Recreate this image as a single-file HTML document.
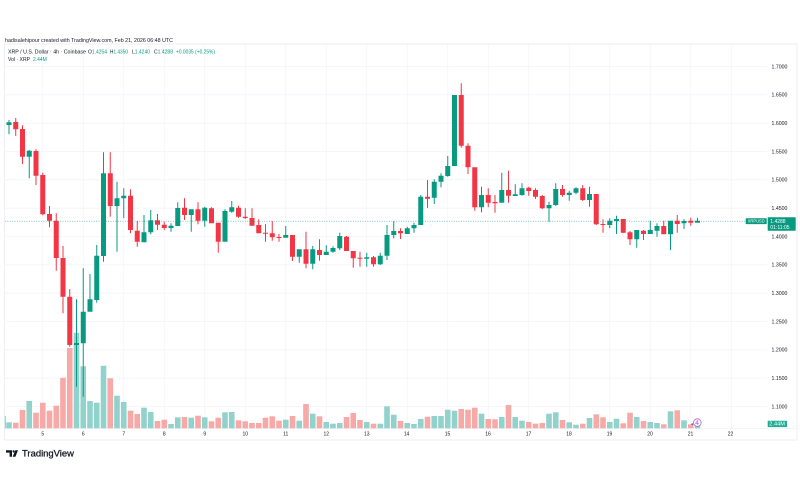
<!DOCTYPE html>
<html><head><meta charset="utf-8"><style>
html,body{margin:0;padding:0;background:#fff;width:800px;height:500px;overflow:hidden}
svg{display:block}
.g{fill:#089981}.r{fill:#f23645}.vg{fill:#92d2cc}.vr{fill:#f7a9a7}
.t{font-family:"Liberation Sans",sans-serif;fill:#131722}
</style></head><body>
<svg width="800" height="500" viewBox="0 0 800 500" xmlns="http://www.w3.org/2000/svg">
<rect width="800" height="500" fill="#fff"/>
<!-- header -->
<text class="t" x="5" y="41.8" font-size="5.3" textLength="168" lengthAdjust="spacingAndGlyphs">hadisalehipour created with TradingView.com, Feb 21, 2026 06:48 UTC</text>
<!-- frame -->
<rect x="4.7" y="44" width="792.3" height="396" fill="none" stroke="#e0e3eb" stroke-width="0.6"/>
<!-- grid -->
<g stroke="#f0f3fa" stroke-width="0.8">
<line x1="42.75" y1="44" x2="42.75" y2="428.3"/><line x1="83.25" y1="44" x2="83.25" y2="428.3"/><line x1="123.75" y1="44" x2="123.75" y2="428.3"/><line x1="164.25" y1="44" x2="164.25" y2="428.3"/><line x1="204.75" y1="44" x2="204.75" y2="428.3"/><line x1="245.25" y1="44" x2="245.25" y2="428.3"/><line x1="285.75" y1="44" x2="285.75" y2="428.3"/><line x1="326.25" y1="44" x2="326.25" y2="428.3"/><line x1="366.75" y1="44" x2="366.75" y2="428.3"/><line x1="407.25" y1="44" x2="407.25" y2="428.3"/><line x1="447.75" y1="44" x2="447.75" y2="428.3"/><line x1="488.25" y1="44" x2="488.25" y2="428.3"/><line x1="528.75" y1="44" x2="528.75" y2="428.3"/><line x1="569.25" y1="44" x2="569.25" y2="428.3"/><line x1="609.75" y1="44" x2="609.75" y2="428.3"/><line x1="650.25" y1="44" x2="650.25" y2="428.3"/><line x1="690.75" y1="44" x2="690.75" y2="428.3"/><line x1="731.25" y1="44" x2="731.25" y2="428.3"/>
<line x1="4.7" y1="66.5" x2="767" y2="66.5"/><line x1="4.7" y1="94.8" x2="767" y2="94.8"/><line x1="4.7" y1="123.2" x2="767" y2="123.2"/><line x1="4.7" y1="151.5" x2="767" y2="151.5"/><line x1="4.7" y1="179.8" x2="767" y2="179.8"/><line x1="4.7" y1="208.2" x2="767" y2="208.2"/><line x1="4.7" y1="236.5" x2="767" y2="236.5"/><line x1="4.7" y1="264.8" x2="767" y2="264.8"/><line x1="4.7" y1="293.2" x2="767" y2="293.2"/><line x1="4.7" y1="321.5" x2="767" y2="321.5"/><line x1="4.7" y1="349.8" x2="767" y2="349.8"/><line x1="4.7" y1="378.2" x2="767" y2="378.2"/><line x1="4.7" y1="406.5" x2="767" y2="406.5"/>
</g>
<line x1="4.7" y1="428.6" x2="797" y2="428.6" stroke="#eceef2" stroke-width="0.6"/>
<!-- legend -->
<g class="t" font-size="5.3">
<text x="8" y="53.6" textLength="78" lengthAdjust="spacingAndGlyphs">XRP / U.S. Dollar · 4h · Coinbase</text>
<text x="88" y="53.6" textLength="19" lengthAdjust="spacingAndGlyphs">O<tspan fill="#089981">1.4254</tspan></text>
<text x="110" y="53.6" textLength="18" lengthAdjust="spacingAndGlyphs">H<tspan fill="#089981">1.4350</tspan></text>
<text x="132" y="53.6" textLength="18" lengthAdjust="spacingAndGlyphs">L<tspan fill="#089981">1.4240</tspan></text>
<text x="154" y="53.6" textLength="19" lengthAdjust="spacingAndGlyphs">C<tspan fill="#089981">1.4288</tspan></text>
<text x="176" y="53.6" textLength="39" lengthAdjust="spacingAndGlyphs" fill="#089981" style="fill:#089981">+0.0035 (+0.25%)</text>
<text x="8" y="60.9" textLength="22" lengthAdjust="spacingAndGlyphs">Vol · XRP</text>
<text x="33" y="60.9" textLength="13.7" lengthAdjust="spacingAndGlyphs" style="fill:#089981">2.44M</text>
</g>
<!-- sliver volume -->
<rect x="4.7" y="416" width="1.2" height="12.3" class="vg"/>
<!-- candles -->
<g transform="translate(9)"><path class="vg" d="M-2.8 422.3V428.3H2.8V422.3Z"/><path class="g" d="M-.5 120V134.3H.5V120ZM-2.5 122.3V125H2.5V122.3Z"/></g>
<g transform="translate(15.75)"><path class="vr" d="M-2.8 422.7V428.3H2.8V422.7Z"/><path class="r" d="M-.5 118V136H.5V118ZM-2.5 122V129.3H2.5V122Z"/></g>
<g transform="translate(22.5)"><path class="vr" d="M-2.8 410V428.3H2.8V410Z"/><path class="r" d="M-.5 125.3V164H.5V125.3ZM-2.5 129V156.7H2.5V129Z"/></g>
<g transform="translate(29.25)"><path class="vg" d="M-2.8 401V428.3H2.8V401Z"/><path class="g" d="M-.5 150V178.3H.5V150ZM-2.5 150.7V156.7H2.5V150.7Z"/></g>
<g transform="translate(36)"><path class="vr" d="M-2.8 412.7V428.3H2.8V412.7Z"/><path class="r" d="M-.5 149.3V185H.5V149.3ZM-2.5 151V175.7H2.5V151Z"/></g>
<g transform="translate(42.75)"><path class="vr" d="M-2.8 402.7V428.3H2.8V402.7Z"/><path class="r" d="M-.5 172.7V215.3H.5V172.7ZM-2.5 175V214.3H2.5V175Z"/></g>
<g transform="translate(49.5)"><path class="vr" d="M-2.8 410.7V428.3H2.8V410.7Z"/><path class="r" d="M-.5 206V227.3H.5V206ZM-2.5 214V220.7H2.5V214Z"/></g>
<g transform="translate(56.25)"><path class="vr" d="M-2.8 405.7V428.3H2.8V405.7Z"/><path class="r" d="M-.5 213.3V270.7H.5V213.3ZM-2.5 220.7V258H2.5V220.7Z"/></g>
<g transform="translate(63)"><path class="vr" d="M-2.8 377.7V428.3H2.8V377.7Z"/><path class="r" d="M-.5 246V313.3H.5V246ZM-2.5 258V296.7H2.5V258Z"/></g>
<g transform="translate(69.75)"><path class="vr" d="M-2.8 348V428.3H2.8V348Z"/><path class="r" d="M-.5 289V346.7H.5V289ZM-2.5 296.7V345H2.5V296.7Z"/></g>
<g transform="translate(76.5)"><path class="vg" d="M-2.8 332.7V428.3H2.8V332.7Z"/><path class="g" d="M-.5 299.3V386.7H.5V299.3ZM-2.5 343V345H2.5V343Z"/></g>
<g transform="translate(83.25)"><path class="vg" d="M-2.8 366.3V428.3H2.8V366.3Z"/><path class="g" d="M-.5 268.3V396.7H.5V268.3ZM-2.5 311.7V343.3H2.5V311.7Z"/></g>
<g transform="translate(90)"><path class="vg" d="M-2.8 401V428.3H2.8V401Z"/><path class="g" d="M-.5 274V311.7H.5V274ZM-2.5 299.3V311.7H2.5V299.3Z"/></g>
<g transform="translate(96.75)"><path class="vg" d="M-2.8 402.7V428.3H2.8V402.7Z"/><path class="g" d="M-.5 245V302.7H.5V245ZM-2.5 255.7V300H2.5V255.7Z"/></g>
<g transform="translate(103.5)"><path class="vg" d="M-2.8 365.7V428.3H2.8V365.7Z"/><path class="g" d="M-.5 152.3V261.7H.5V152.3ZM-2.5 173.3V256H2.5V173.3Z"/></g>
<g transform="translate(110.25)"><path class="vr" d="M-2.8 378.3V428.3H2.8V378.3Z"/><path class="r" d="M-.5 152.3V216.7H.5V152.3ZM-2.5 173.3V206H2.5V173.3Z"/></g>
<g transform="translate(117)"><path class="vg" d="M-2.8 395.7V428.3H2.8V395.7Z"/><path class="g" d="M-.5 181.7V251.7H.5V181.7ZM-2.5 198.3V206H2.5V198.3Z"/></g>
<g transform="translate(123.75)"><path class="vg" d="M-2.8 402V428.3H2.8V402Z"/><path class="g" d="M-.5 188.3V218.3H.5V188.3ZM-2.5 195.7V198.3H2.5V195.7Z"/></g>
<g transform="translate(130.5)"><path class="vr" d="M-2.8 410.7V428.3H2.8V410.7Z"/><path class="r" d="M-.5 189.3V233.3H.5V189.3ZM-2.5 195.7V230H2.5V195.7Z"/></g>
<g transform="translate(137.25)"><path class="vr" d="M-2.8 414V428.3H2.8V414Z"/><path class="r" d="M-.5 221V246.7H.5V221ZM-2.5 230.7V241.7H2.5V230.7Z"/></g>
<g transform="translate(144)"><path class="vg" d="M-2.8 407.7V428.3H2.8V407.7Z"/><path class="g" d="M-.5 215V242.3H.5V215ZM-2.5 232.3V242.3H2.5V232.3Z"/></g>
<g transform="translate(150.75)"><path class="vg" d="M-2.8 412V428.3H2.8V412Z"/><path class="g" d="M-.5 210V234.3H.5V210ZM-2.5 220.3V232.3H2.5V220.3Z"/></g>
<g transform="translate(157.5)"><path class="vr" d="M-2.8 421V428.3H2.8V421Z"/><path class="r" d="M-.5 214V230H.5V214ZM-2.5 220.3V224.7H2.5V220.3Z"/></g>
<g transform="translate(164.25)"><path class="vr" d="M-2.8 419.7V428.3H2.8V419.7Z"/><path class="r" d="M-.5 221.7V230H.5V221.7ZM-2.5 224.7V228H2.5V224.7Z"/></g>
<g transform="translate(171)"><path class="vg" d="M-2.8 424V428.3H2.8V424Z"/><path class="g" d="M-.5 223.3V231.7H.5V223.3ZM-2.5 225.7V228H2.5V225.7Z"/></g>
<g transform="translate(177.75)"><path class="vg" d="M-2.8 417.3V428.3H2.8V417.3Z"/><path class="g" d="M-.5 202.3V226H.5V202.3ZM-2.5 208V226H2.5V208Z"/></g>
<g transform="translate(184.5)"><path class="vr" d="M-2.8 417V428.3H2.8V417Z"/><path class="r" d="M-.5 198.3V220H.5V198.3ZM-2.5 207.7V215H2.5V207.7Z"/></g>
<g transform="translate(191.25)"><path class="vg" d="M-2.8 417.7V428.3H2.8V417.7Z"/><path class="g" d="M-.5 209.3V231.7H.5V209.3ZM-2.5 209.3V215H2.5V209.3Z"/></g>
<g transform="translate(198)"><path class="vr" d="M-2.8 415.7V428.3H2.8V415.7Z"/><path class="r" d="M-.5 202.3V224.3H.5V202.3ZM-2.5 209.3V220.7H2.5V209.3Z"/></g>
<g transform="translate(204.75)"><path class="vg" d="M-2.8 417.3V428.3H2.8V417.3Z"/><path class="g" d="M-.5 206.7V226.7H.5V206.7ZM-2.5 207.7V220.7H2.5V207.7Z"/></g>
<g transform="translate(211.5)"><path class="vr" d="M-2.8 421.3V428.3H2.8V421.3Z"/><path class="r" d="M-.5 207.3V223.3H.5V207.3ZM-2.5 208.3V223.3H2.5V208.3Z"/></g>
<g transform="translate(218.25)"><path class="vr" d="M-2.8 417.7V428.3H2.8V417.7Z"/><path class="r" d="M-.5 222.7V252.7H.5V222.7ZM-2.5 222.7V241.7H2.5V222.7Z"/></g>
<g transform="translate(225)"><path class="vg" d="M-2.8 412.3V428.3H2.8V412.3Z"/><path class="g" d="M-.5 209.3V241.7H.5V209.3ZM-2.5 211V241.7H2.5V211Z"/></g>
<g transform="translate(231.75)"><path class="vg" d="M-2.8 412V428.3H2.8V412Z"/><path class="g" d="M-.5 201V212.7H.5V201ZM-2.5 207.3V211.7H2.5V207.3Z"/></g>
<g transform="translate(238.5)"><path class="vr" d="M-2.8 420.3V428.3H2.8V420.3Z"/><path class="r" d="M-.5 205.7V217.7H.5V205.7ZM-2.5 207.7V216.7H2.5V207.7Z"/></g>
<g transform="translate(245.25)"><path class="vr" d="M-2.8 421.3V428.3H2.8V421.3Z"/><path class="r" d="M-.5 208.3V219H.5V208.3ZM-2.5 216.7V218H2.5V216.7Z"/></g>
<g transform="translate(252)"><path class="vr" d="M-2.8 423V428.3H2.8V423Z"/><path class="r" d="M-.5 208.3V225.7H.5V208.3ZM-2.5 218V225.7H2.5V218Z"/></g>
<g transform="translate(258.75)"><path class="vr" d="M-2.8 423V428.3H2.8V423Z"/><path class="r" d="M-.5 219.3V233.3H.5V219.3ZM-2.5 225V233.3H2.5V225Z"/></g>
<g transform="translate(265.5)"><path class="vr" d="M-2.8 417.7V428.3H2.8V417.7Z"/><path class="r" d="M-.5 224.3V241.7H.5V224.3ZM-2.5 232.7V233.7H2.5V232.7Z"/></g>
<g transform="translate(272.25)"><path class="vr" d="M-2.8 416.3V428.3H2.8V416.3Z"/><path class="r" d="M-.5 221V240.7H.5V221ZM-2.5 233.3V237.3H2.5V233.3Z"/></g>
<g transform="translate(279)"><path class="vr" d="M-2.8 420.7V428.3H2.8V420.7Z"/><path class="r" d="M-.5 234V241.7H.5V234ZM-2.5 237V238H2.5V237Z"/></g>
<g transform="translate(285.75)"><path class="vg" d="M-2.8 419.7V428.3H2.8V419.7Z"/><path class="g" d="M-.5 226V237.7H.5V226ZM-2.5 235V237.7H2.5V235Z"/></g>
<g transform="translate(292.5)"><path class="vr" d="M-2.8 416V428.3H2.8V416Z"/><path class="r" d="M-.5 235V261H.5V235ZM-2.5 235V256.7H2.5V235Z"/></g>
<g transform="translate(299.25)"><path class="vg" d="M-2.8 420.7V428.3H2.8V420.7Z"/><path class="g" d="M-.5 249.3V262.7H.5V249.3ZM-2.5 249.3V256.7H2.5V249.3Z"/></g>
<g transform="translate(306)"><path class="vr" d="M-2.8 404V428.3H2.8V404Z"/><path class="r" d="M-.5 231.7V268.3H.5V231.7ZM-2.5 249.3V263.7H2.5V249.3Z"/></g>
<g transform="translate(312.75)"><path class="vg" d="M-2.8 413.7V428.3H2.8V413.7Z"/><path class="g" d="M-.5 246V269.3H.5V246ZM-2.5 249.3V263.7H2.5V249.3Z"/></g>
<g transform="translate(319.5)"><path class="vr" d="M-2.8 416.3V428.3H2.8V416.3Z"/><path class="r" d="M-.5 239.3V260.7H.5V239.3ZM-2.5 250V255H2.5V250Z"/></g>
<g transform="translate(326.25)"><path class="vg" d="M-2.8 422V428.3H2.8V422Z"/><path class="g" d="M-.5 245.3V255H.5V245.3ZM-2.5 251.7V255H2.5V251.7Z"/></g>
<g transform="translate(333)"><path class="vg" d="M-2.8 423.7V428.3H2.8V423.7Z"/><path class="g" d="M-.5 246.3V252.7H.5V246.3ZM-2.5 248V251.7H2.5V248Z"/></g>
<g transform="translate(339.75)"><path class="vg" d="M-2.8 423V428.3H2.8V423Z"/><path class="g" d="M-.5 232.7V250H.5V232.7ZM-2.5 236V248.3H2.5V236Z"/></g>
<g transform="translate(346.5)"><path class="vr" d="M-2.8 417V428.3H2.8V417Z"/><path class="r" d="M-.5 236V251H.5V236ZM-2.5 236.7V251H2.5V236.7Z"/></g>
<g transform="translate(353.25)"><path class="vr" d="M-2.8 413V428.3H2.8V413Z"/><path class="r" d="M-.5 251V267.7H.5V251ZM-2.5 251V258.3H2.5V251Z"/></g>
<g transform="translate(360)"><path class="vr" d="M-2.8 420V428.3H2.8V420Z"/><path class="r" d="M-.5 251.7V266.7H.5V251.7ZM-2.5 257.7V258.7H2.5V257.7Z"/></g>
<g transform="translate(366.75)"><path class="vg" d="M-2.8 422V428.3H2.8V422Z"/><path class="g" d="M-.5 252.7V266.7H.5V252.7ZM-2.5 257.3V258.7H2.5V257.3Z"/></g>
<g transform="translate(373.5)"><path class="vr" d="M-2.8 423.7V428.3H2.8V423.7Z"/><path class="r" d="M-.5 256V266.7H.5V256ZM-2.5 257.3V264.3H2.5V257.3Z"/></g>
<g transform="translate(380.25)"><path class="vg" d="M-2.8 423.7V428.3H2.8V423.7Z"/><path class="g" d="M-.5 252.7V265H.5V252.7ZM-2.5 255.7V264.3H2.5V255.7Z"/></g>
<g transform="translate(387)"><path class="vg" d="M-2.8 406.3V428.3H2.8V406.3Z"/><path class="g" d="M-.5 225V260H.5V225ZM-2.5 235V255.7H2.5V235Z"/></g>
<g transform="translate(393.75)"><path class="vg" d="M-2.8 414.7V428.3H2.8V414.7Z"/><path class="g" d="M-.5 221V238.3H.5V221ZM-2.5 231V235H2.5V231Z"/></g>
<g transform="translate(400.5)"><path class="vr" d="M-2.8 421V428.3H2.8V421Z"/><path class="r" d="M-.5 228.3V239H.5V228.3ZM-2.5 231V233.3H2.5V231Z"/></g>
<g transform="translate(407.25)"><path class="vg" d="M-2.8 423V428.3H2.8V423Z"/><path class="g" d="M-.5 226.7V234H.5V226.7ZM-2.5 228.3V234H2.5V228.3Z"/></g>
<g transform="translate(414)"><path class="vg" d="M-2.8 424V428.3H2.8V424Z"/><path class="g" d="M-.5 222.7V232.7H.5V222.7ZM-2.5 225V228.3H2.5V225Z"/></g>
<g transform="translate(420.75)"><path class="vg" d="M-2.8 419V428.3H2.8V419Z"/><path class="g" d="M-.5 195V225H.5V195ZM-2.5 196.7V225H2.5V196.7Z"/></g>
<g transform="translate(427.5)"><path class="vr" d="M-2.8 416.7V428.3H2.8V416.7Z"/><path class="r" d="M-.5 180V207.7H.5V180ZM-2.5 196.7V198.7H2.5V196.7Z"/></g>
<g transform="translate(434.25)"><path class="vg" d="M-2.8 416V428.3H2.8V416Z"/><path class="g" d="M-.5 179.3V204H.5V179.3ZM-2.5 181.7V197.7H2.5V181.7Z"/></g>
<g transform="translate(441)"><path class="vg" d="M-2.8 416V428.3H2.8V416Z"/><path class="g" d="M-.5 173.3V187.3H.5V173.3ZM-2.5 175.7V181.7H2.5V175.7Z"/></g>
<g transform="translate(447.75)"><path class="vg" d="M-2.8 409.7V428.3H2.8V409.7Z"/><path class="g" d="M-.5 156V176.7H.5V156ZM-2.5 166V176H2.5V166Z"/></g>
<g transform="translate(454.5)"><path class="vg" d="M-2.8 410.7V428.3H2.8V410.7Z"/><path class="g" d="M-.5 95V166H.5V95ZM-2.5 95V166H2.5V95Z"/></g>
<g transform="translate(461.25)"><path class="vr" d="M-2.8 409V428.3H2.8V409Z"/><path class="r" d="M-.5 83.3V147.7H.5V83.3ZM-2.5 95V145.7H2.5V95Z"/></g>
<g transform="translate(468)"><path class="vr" d="M-2.8 409.7V428.3H2.8V409.7Z"/><path class="r" d="M-.5 143.3V174H.5V143.3ZM-2.5 145.7V167.3H2.5V145.7Z"/></g>
<g transform="translate(474.75)"><path class="vr" d="M-2.8 407.7V428.3H2.8V407.7Z"/><path class="r" d="M-.5 167.3V210.7H.5V167.3ZM-2.5 167.3V207.3H2.5V167.3Z"/></g>
<g transform="translate(481.5)"><path class="vg" d="M-2.8 413.7V428.3H2.8V413.7Z"/><path class="g" d="M-.5 186.7V212.3H.5V186.7ZM-2.5 195V207.3H2.5V195Z"/></g>
<g transform="translate(488.25)"><path class="vr" d="M-2.8 419V428.3H2.8V419Z"/><path class="r" d="M-.5 188.3V207.3H.5V188.3ZM-2.5 195V202.7H2.5V195Z"/></g>
<g transform="translate(495)"><path class="vr" d="M-2.8 419.3V428.3H2.8V419.3Z"/><path class="r" d="M-.5 195V212.7H.5V195ZM-2.5 202V203.3H2.5V202Z"/></g>
<g transform="translate(501.75)"><path class="vg" d="M-2.8 417V428.3H2.8V417Z"/><path class="g" d="M-.5 172.7V202.7H.5V172.7ZM-2.5 190V202.7H2.5V190Z"/></g>
<g transform="translate(508.5)"><path class="vr" d="M-2.8 405V428.3H2.8V405Z"/><path class="r" d="M-.5 170.7V202.7H.5V170.7ZM-2.5 190V195.7H2.5V190Z"/></g>
<g transform="translate(515.25)"><path class="vg" d="M-2.8 417V428.3H2.8V417Z"/><path class="g" d="M-.5 184.3V196H.5V184.3ZM-2.5 194.3V196H2.5V194.3Z"/></g>
<g transform="translate(522)"><path class="vg" d="M-2.8 420.7V428.3H2.8V420.7Z"/><path class="g" d="M-.5 183.3V195.7H.5V183.3ZM-2.5 188.3V195H2.5V188.3Z"/></g>
<g transform="translate(528.75)"><path class="vr" d="M-2.8 422V428.3H2.8V422Z"/><path class="r" d="M-.5 186.7V195.7H.5V186.7ZM-2.5 187.7V191H2.5V187.7Z"/></g>
<g transform="translate(535.5)"><path class="vr" d="M-2.8 423.7V428.3H2.8V423.7Z"/><path class="r" d="M-.5 188.3V199H.5V188.3ZM-2.5 190V196.7H2.5V190Z"/></g>
<g transform="translate(542.25)"><path class="vr" d="M-2.8 423V428.3H2.8V423Z"/><path class="r" d="M-.5 195V209H.5V195ZM-2.5 196V208.3H2.5V196Z"/></g>
<g transform="translate(549)"><path class="vg" d="M-2.8 413.7V428.3H2.8V413.7Z"/><path class="g" d="M-.5 201.7V221.7H.5V201.7ZM-2.5 205V208.3H2.5V205Z"/></g>
<g transform="translate(555.75)"><path class="vg" d="M-2.8 412.3V428.3H2.8V412.3Z"/><path class="g" d="M-.5 183.3V206H.5V183.3ZM-2.5 189V205H2.5V189Z"/></g>
<g transform="translate(562.5)"><path class="vr" d="M-2.8 420V428.3H2.8V420Z"/><path class="r" d="M-.5 185V196.7H.5V185ZM-2.5 189V195H2.5V189Z"/></g>
<g transform="translate(569.25)"><path class="vg" d="M-2.8 422.3V428.3H2.8V422.3Z"/><path class="g" d="M-.5 190.7V200.7H.5V190.7ZM-2.5 192.7V195H2.5V192.7Z"/></g>
<g transform="translate(576)"><path class="vg" d="M-2.8 424.7V428.3H2.8V424.7Z"/><path class="g" d="M-.5 187.3V194.3H.5V187.3ZM-2.5 188.3V192.7H2.5V188.3Z"/></g>
<g transform="translate(582.75)"><path class="vr" d="M-2.8 423.7V428.3H2.8V423.7Z"/><path class="r" d="M-.5 185V201H.5V185ZM-2.5 188.3V200H2.5V188.3Z"/></g>
<g transform="translate(589.5)"><path class="vg" d="M-2.8 418V428.3H2.8V418Z"/><path class="g" d="M-.5 186.7V206.7H.5V186.7ZM-2.5 194V200H2.5V194Z"/></g>
<g transform="translate(596.25)"><path class="vr" d="M-2.8 414.3V428.3H2.8V414.3Z"/><path class="r" d="M-.5 194V225H.5V194ZM-2.5 194V224.3H2.5V194Z"/></g>
<g transform="translate(603)"><path class="vr" d="M-2.8 417.3V428.3H2.8V417.3Z"/><path class="r" d="M-.5 219.3V232.7H.5V219.3ZM-2.5 224V225H2.5V224Z"/></g>
<g transform="translate(609.75)"><path class="vg" d="M-2.8 422V428.3H2.8V422Z"/><path class="g" d="M-.5 218.3V228.3H.5V218.3ZM-2.5 220.7V225H2.5V220.7Z"/></g>
<g transform="translate(616.5)"><path class="vg" d="M-2.8 418.7V428.3H2.8V418.7Z"/><path class="g" d="M-.5 215.7V234H.5V215.7ZM-2.5 219V221H2.5V219Z"/></g>
<g transform="translate(623.25)"><path class="vr" d="M-2.8 423.3V428.3H2.8V423.3Z"/><path class="r" d="M-.5 219V233H.5V219ZM-2.5 219V232.7H2.5V219Z"/></g>
<g transform="translate(630)"><path class="vr" d="M-2.8 412.7V428.3H2.8V412.7Z"/><path class="r" d="M-.5 231V245H.5V231ZM-2.5 232.3V239.3H2.5V232.3Z"/></g>
<g transform="translate(636.75)"><path class="vg" d="M-2.8 417V428.3H2.8V417Z"/><path class="g" d="M-.5 230V247.7H.5V230ZM-2.5 230V239.3H2.5V230Z"/></g>
<g transform="translate(643.5)"><path class="vr" d="M-2.8 421V428.3H2.8V421Z"/><path class="r" d="M-.5 230V240H.5V230ZM-2.5 230.7V234H2.5V230.7Z"/></g>
<g transform="translate(650.25)"><path class="vg" d="M-2.8 422V428.3H2.8V422Z"/><path class="g" d="M-.5 220.7V234H.5V220.7ZM-2.5 230V234H2.5V230Z"/></g>
<g transform="translate(657)"><path class="vg" d="M-2.8 423V428.3H2.8V423Z"/><path class="g" d="M-.5 223.3V236.7H.5V223.3ZM-2.5 226V230.7H2.5V226Z"/></g>
<g transform="translate(663.75)"><path class="vr" d="M-2.8 424.3V428.3H2.8V424.3Z"/><path class="r" d="M-.5 220.7V234.3H.5V220.7ZM-2.5 226V234.3H2.5V226Z"/></g>
<g transform="translate(670.5)"><path class="vg" d="M-2.8 411.3V428.3H2.8V411.3Z"/><path class="g" d="M-.5 220.7V250H.5V220.7ZM-2.5 220.7V234.3H2.5V220.7Z"/></g>
<g transform="translate(677.25)"><path class="vr" d="M-2.8 410.3V428.3H2.8V410.3Z"/><path class="r" d="M-.5 215V232.7H.5V215ZM-2.5 220.7V224H2.5V220.7Z"/></g>
<g transform="translate(684)"><path class="vg" d="M-2.8 420.3V428.3H2.8V420.3Z"/><path class="g" d="M-.5 219.3V229H.5V219.3ZM-2.5 221V223.3H2.5V221Z"/></g>
<g transform="translate(690.75)"><path class="vr" d="M-2.8 424.3V428.3H2.8V424.3Z"/><path class="r" d="M-.5 217.7V225.7H.5V217.7ZM-2.5 220.7V222.7H2.5V220.7Z"/></g>
<g transform="translate(697.5)"><path class="vg" d="M-2.8 424V428.3H2.8V424Z"/><path class="g" d="M-.5 217.7V222.7H.5V217.7ZM-2.5 220.7V222.7H2.5V220.7Z"/></g>
<!-- last price line -->
<line x1="5" y1="221.2" x2="745.7" y2="221.2" stroke="#089981" stroke-width="0.7" stroke-dasharray="0.8 1.6"/>
<!-- purple icon -->
<circle cx="692.3" cy="424.2" r="1" fill="#7e57c2"/>
<circle cx="697.3" cy="422.6" r="3.8" fill="#fff" stroke="#b45fd6" stroke-width="0.8"/>
<path d="M697.8 420.3L695.6 423.4H698.9M697.8 420.3V425" fill="none" stroke="#b45fd6" stroke-width="0.6"/>
<!-- price axis labels -->
<g class="t" font-size="5.2">
<text x="771.5" y="68.3">1.7000</text>
<text x="771.5" y="96.6">1.6500</text>
<text x="771.5" y="125">1.6000</text>
<text x="771.5" y="153.3">1.5500</text>
<text x="771.5" y="181.6">1.5000</text>
<text x="771.5" y="210">1.4500</text>
<text x="771.5" y="238.3">1.4000</text>
<text x="771.5" y="266.6">1.3500</text>
<text x="771.5" y="295">1.3000</text>
<text x="771.5" y="323.3">1.2500</text>
<text x="771.5" y="351.6">1.2000</text>
<text x="771.5" y="380">1.1500</text>
<text x="771.5" y="408.3">1.1000</text>
</g>
<!-- date axis labels -->
<g class="t" font-size="5" text-anchor="middle">
<text x="42.75" y="435.6">5</text><text x="83.25" y="435.6">6</text><text x="123.75" y="435.6">7</text><text x="164.25" y="435.6">8</text><text x="204.75" y="435.6">9</text><text x="245.25" y="435.6">10</text><text x="285.75" y="435.6">11</text><text x="326.25" y="435.6">12</text><text x="366.75" y="435.6">13</text><text x="406.5" y="435.6">14</text><text x="447.5" y="435.6">15</text><text x="488" y="435.6">16</text><text x="528.5" y="435.6">17</text><text x="569" y="435.6">18</text><text x="609.5" y="435.6">19</text><text x="650" y="435.6">20</text><text x="690.5" y="435.6">21</text><text x="730.5" y="435.6">22</text>
</g>
<!-- price markers -->
<rect x="745.7" y="218.2" width="21" height="5.9" fill="#089981" rx="0.5"/>
<text x="756.2" y="222.6" font-size="4.2" fill="#fff" text-anchor="middle" font-family="Liberation Sans, sans-serif" textLength="17" lengthAdjust="spacingAndGlyphs">XRPUSD</text>
<rect x="767.7" y="217.3" width="28" height="13.4" fill="#089981" rx="0.5"/>
<text x="770.3" y="223.2" font-size="5" fill="#fff" font-family="Liberation Sans, sans-serif">1.4288</text>
<text x="770.3" y="229" font-size="5" fill="#fff" font-family="Liberation Sans, sans-serif" textLength="19.3" lengthAdjust="spacingAndGlyphs">01:11:05</text>
<rect x="767.7" y="420.7" width="19.3" height="6.4" fill="#22ab94" rx="0.5"/>
<text x="769.3" y="425.7" font-size="5" fill="#fff" font-family="Liberation Sans, sans-serif" textLength="15.6" lengthAdjust="spacingAndGlyphs">2.44M</text>
<!-- TradingView logo -->
<path d="M6 450.3H12V456.8H9.6V452.6H6Z" fill="#131722"/>
<circle cx="13.6" cy="451.4" r="1.1" fill="#131722"/>
<path d="M15.3 450.3H18L15.4 456.8H12.7Z" fill="#131722"/>
<text x="22" y="456.6" font-size="8.8" fill="#131722" stroke="#131722" stroke-width="0.25" font-family="Liberation Sans, sans-serif" textLength="52" lengthAdjust="spacingAndGlyphs">TradingView</text>
</svg>
</body></html>
